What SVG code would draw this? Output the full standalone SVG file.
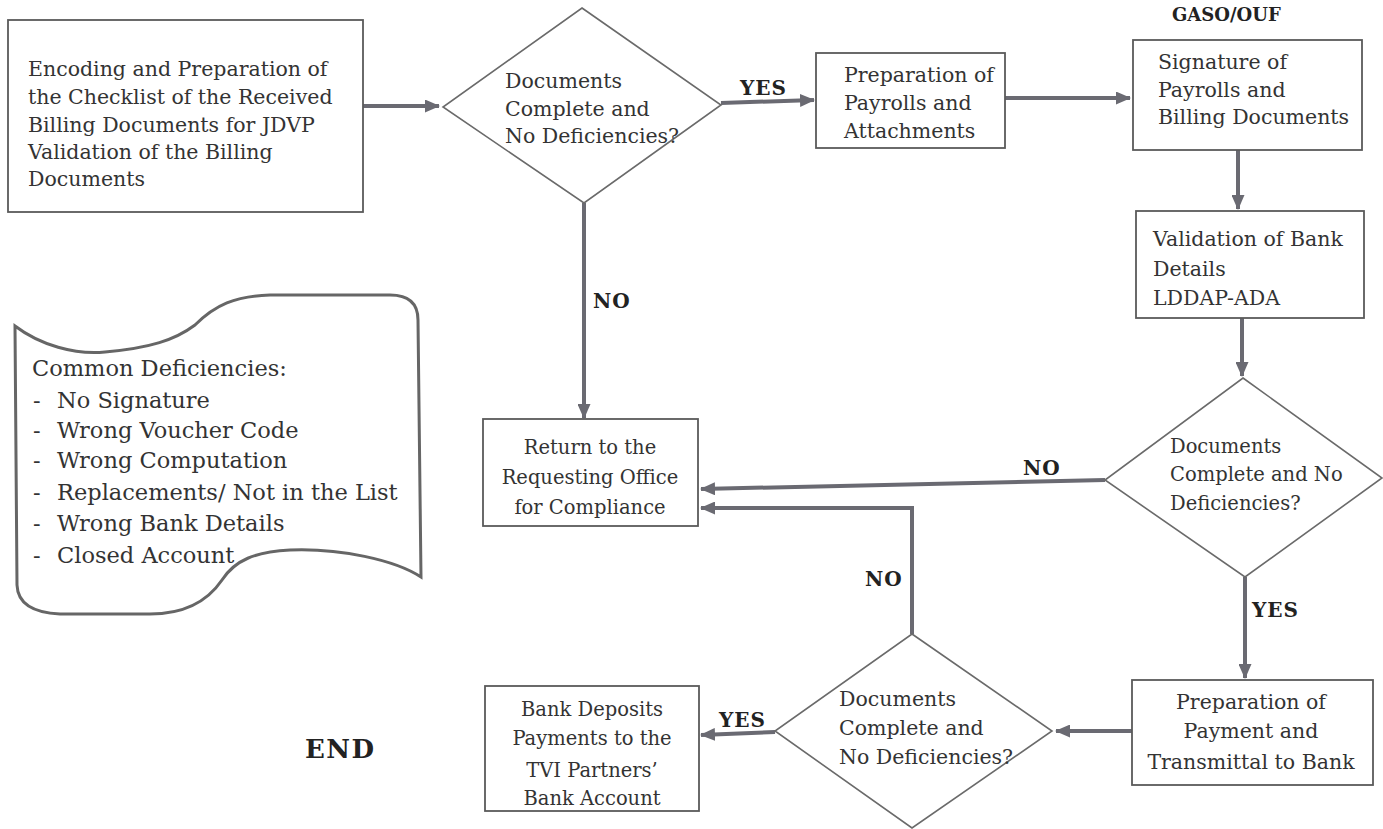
<svg xmlns="http://www.w3.org/2000/svg" width="1383" height="829" viewBox="0 0 1383 829">
<style>
.bg{fill:#ffffff}
.box{fill:#ffffff;stroke:#5a5a5a;stroke-width:1.8}
.dia{fill:#ffffff;stroke:#6a6a6a;stroke-width:1.6}
.scroll{fill:#ffffff;stroke:#666;stroke-width:3}
.t{font-family:"DejaVu Serif","Liberation Serif",serif;font-size:20.5px;fill:#333333}
.s{font-size:19.5px}
.big{font-family:"DejaVu Serif","Liberation Serif",serif;font-size:22.5px;fill:#333333}
.lb{font-family:"DejaVu Serif","Liberation Serif",serif;font-weight:bold;font-size:20px;fill:#222222;letter-spacing:1px}
.end{font-family:"DejaVu Serif","Liberation Serif",serif;font-weight:bold;font-size:26px;fill:#222222;letter-spacing:1.5px}
.c{text-anchor:middle}
.conn{fill:none;stroke:#6a6a72;stroke-width:4;marker-end:url(#ah)}
</style>
<defs>
<marker id="ah" markerUnits="userSpaceOnUse" markerWidth="15" markerHeight="13" refX="14" refY="6.5" orient="auto">
<path d="M0,0 L15,6.5 L0,13 Z" fill="#6a6a72"/>
</marker>
</defs>
<rect class="bg" x="0" y="0" width="1383" height="829"/>

<g id="connectors">
<line class="conn" x1="363" y1="106" x2="439" y2="106"/>
<line class="conn" x1="721" y1="103" x2="814" y2="100"/>
<line class="conn" x1="1005" y1="98" x2="1130" y2="98"/>
<line class="conn" x1="1238" y1="150" x2="1238" y2="209"/>
<line class="conn" x1="1242" y1="318" x2="1242" y2="376"/>
<line class="conn" x1="584" y1="203" x2="584" y2="418"/>
<line class="conn" x1="1105" y1="480" x2="701" y2="489"/>
<polyline class="conn" points="912,634 912,508 701,508"/>
<line class="conn" x1="1245" y1="577" x2="1245" y2="678"/>
<line class="conn" x1="1132" y1="731" x2="1056" y2="731"/>
<line class="conn" x1="775" y1="732" x2="701" y2="735"/>
<text class="lb" x="740" y="95">YES</text>
<text class="lb" x="593" y="308">NO</text>
<text class="lb" x="1023" y="475">NO</text>
<text class="lb" x="865" y="586">NO</text>
<text class="lb" x="1252" y="617">YES</text>
<text class="lb" x="719" y="727">YES</text>
</g>

<g id="header">
<text class="lb" x="1172" y="21" style="font-size:18px;letter-spacing:0">GASO/OUF</text>
</g>

<g id="n1">
<rect class="box" x="8" y="20" width="355" height="192"/>
<text class="t" x="28" y="76">Encoding and Preparation of</text>
<text class="t" x="28" y="104">the Checklist of the Received</text>
<text class="t" x="28" y="132">Billing Documents for JDVP</text>
<text class="t" x="28" y="159">Validation of the Billing</text>
<text class="t" x="28" y="186">Documents</text>
</g>

<g id="d1">
<polygon class="dia" points="582,8 721,105 584,203 443,107"/>
<text class="t" x="505" y="88">Documents</text>
<text class="t" x="505" y="116">Complete and</text>
<text class="t" x="505" y="143">No Deficiencies?</text>
</g>

<g id="n2">
<rect class="box" x="816" y="53" width="189" height="95"/>
<text class="t" x="844" y="82">Preparation of</text>
<text class="t" x="844" y="110">Payrolls and</text>
<text class="t" x="844" y="138">Attachments</text>
</g>

<g id="n3">
<rect class="box" x="1133" y="40" width="229" height="110"/>
<text class="t" x="1158" y="69">Signature of</text>
<text class="t" x="1158" y="97">Payrolls and</text>
<text class="t" x="1158" y="124">Billing Documents</text>
</g>

<g id="n4">
<rect class="box" x="1136" y="211" width="228" height="107"/>
<text class="t" x="1153" y="246">Validation of Bank</text>
<text class="t" x="1153" y="276">Details</text>
<text class="t" x="1153" y="305">LDDAP-ADA</text>
</g>

<g id="d2">
<polygon class="dia" points="1243,378 1382,478 1245,577 1105,480"/>
<text class="t s" x="1170" y="453">Documents</text>
<text class="t s" x="1170" y="481">Complete and No</text>
<text class="t s" x="1170" y="510">Deficiencies?</text>
</g>

<g id="n5">
<rect class="box" x="1132" y="680" width="241" height="105"/>
<text class="t c" x="1251" y="709">Preparation of</text>
<text class="t c" x="1251" y="738">Payment and</text>
<text class="t c" x="1251" y="769">Transmittal to Bank</text>
</g>

<g id="d3">
<polygon class="dia" points="912,634 1052,731 912,828 775,731"/>
<text class="t" x="839" y="706">Documents</text>
<text class="t" x="839" y="735">Complete and</text>
<text class="t" x="839" y="764">No Deficiencies?</text>
</g>

<g id="n6">
<rect class="box" x="483" y="419" width="215" height="107"/>
<text class="t c s" x="590" y="454">Return to the</text>
<text class="t c s" x="590" y="484">Requesting Office</text>
<text class="t c s" x="590" y="514">for Compliance</text>
</g>

<g id="n7">
<rect class="box" x="485" y="686" width="214" height="125"/>
<text class="t c s" x="592" y="716">Bank Deposits</text>
<text class="t c s" x="592" y="745">Payments to the</text>
<text class="t c s" x="592" y="777">TVI Partners’</text>
<text class="t c s" x="592" y="805">Bank Account</text>
</g>

<g id="end">
<text class="end" x="305" y="758">END</text>
</g>

<g id="note">
<path class="scroll" d="M15,326 C40,345 75,355 105,352 C150,348 175,340 195,325 C215,305 235,296 270,295 L390,295 Q418,295 418,320 L421,577 C395,560 340,548 290,550 C255,552 235,560 222,580 C205,605 180,614 150,614 L60,614 Q18,612 17,585 Z"/>
<text class="big" x="32" y="376">Common Deficiencies:</text>
<text class="big" x="33" y="408">-</text><text class="big" x="57" y="408">No Signature</text>
<text class="big" x="33" y="438">-</text><text class="big" x="57" y="438">Wrong Voucher Code</text>
<text class="big" x="33" y="468">-</text><text class="big" x="57" y="468">Wrong Computation</text>
<text class="big" x="33" y="500">-</text><text class="big" x="57" y="500">Replacements/ Not in the List</text>
<text class="big" x="33" y="531">-</text><text class="big" x="57" y="531">Wrong Bank Details</text>
<text class="big" x="33" y="563">-</text><text class="big" x="57" y="563">Closed Account</text>
</g>
</svg>
